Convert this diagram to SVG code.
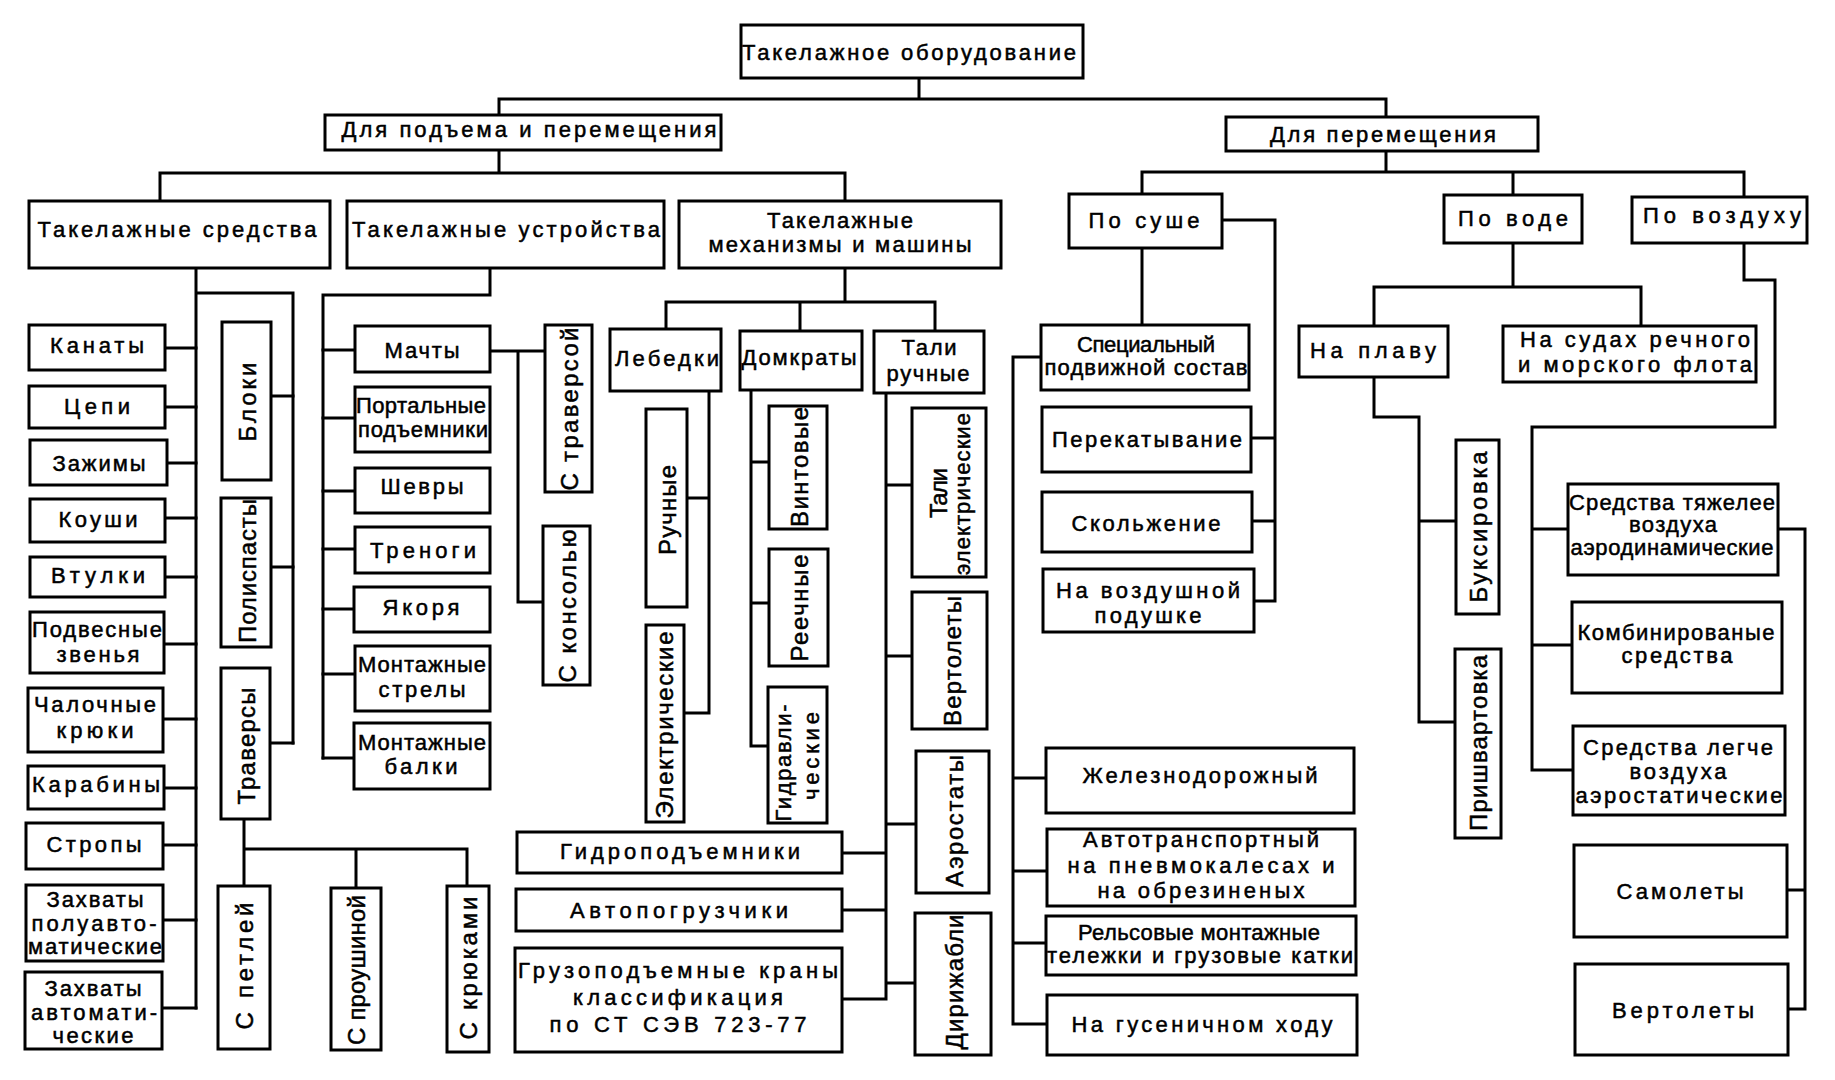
<svg xmlns="http://www.w3.org/2000/svg" width="1835" height="1080" viewBox="0 0 1835 1080">
<style>
rect{fill:#fff;stroke:#000;stroke-width:3}
.c path{fill:none;stroke:#000;stroke-width:3;stroke-linecap:square}
text{font-family:"Liberation Sans",Arial,sans-serif;font-size:22px;fill:#000;stroke:#000;stroke-width:0.5;text-anchor:middle}
.v{font-size:24px}
</style>
<rect x="0" y="0" width="1835" height="1080" style="stroke:none"/>
<g class="c" id="connectors">
<path d="M919,78V99M499,99H1386M499,99V115M1386,99V117"/>
<path d="M499,150V173M160,173H845M160,173V201M845,173V201"/>
<path d="M1386,151V172M1142,172H1744M1142,172V194M1513,172V195M1744,172V197"/>
<path d="M196,268V1008M196,293H293V743"/>
<path d="M165,348H196M165,407H196M167,463H196M165,518H196M165,577H196M164,644H196M163,719H196M164,788H196M163,845H196M163,920H196M162,1008H196"/>
<path d="M271,396H293M271,567H293M270,743H293"/>
<path d="M244,819V886M244,849H467V886M356,849V888"/>
<path d="M490,268V295H323V758"/>
<path d="M323,350H355M323,418H355M323,491H355M323,549H355M323,609H354M323,674H355M323,758H354"/>
<path d="M490,351H545M518,351V602H543"/>
<path d="M845,268V302M666,302H935M666,302V329M800,302V331M935,302V331"/>
<path d="M709,391V713M687,498H709M684,713H709"/>
<path d="M751,390V746M751,462H769M751,603H769M751,746H768"/>
<path d="M886,393V999M886,485H912M886,656H912M886,824H916M886,983H915M842,853H886M842,910H886M842,999H886"/>
<path d="M1142,248V325"/>
<path d="M1041,357H1013V1024M1013,778H1046M1013,871H1047M1013,943H1046M1013,1024H1047"/>
<path d="M1222,220H1275V601M1251,438H1275M1252,521H1275M1254,601H1275"/>
<path d="M1513,243V287M1374,287H1641M1374,287V326M1641,287V326"/>
<path d="M1374,377V417H1419V722M1419,521H1456M1419,722H1455"/>
<path d="M1744,243V280H1775V427H1532V770H1573M1532,529H1568M1532,645H1572"/>
<path d="M1778,529H1805V1009H1788M1787,890H1805"/>
</g>

<g id="top"><rect x="741" y="25" width="342" height="53"/><text x="909" y="60" textLength="334">Такелажное оборудование</text></g>
<g id="podjem"><rect x="325" y="115" width="396" height="35"/><text x="529" y="137" textLength="375">Для подъема и перемещения</text></g>
<g id="peremesh"><rect x="1226" y="117" width="312" height="34"/><text x="1383" y="142" textLength="226">Для перемещения</text></g>

<g id="sredstva"><rect x="29" y="201" width="301" height="67"/><text x="177" y="237" textLength="279">Такелажные средства</text></g>
<g id="ustroystva"><rect x="347" y="201" width="317" height="67"/><text x="506" y="237" textLength="308">Такелажные устройства</text></g>
<g id="mekh"><rect x="679" y="201" width="322" height="67"/><text x="840" y="228" font-size="21" textLength="146">Такелажные</text><text x="840" y="252" font-size="21" textLength="263">механизмы и машины</text></g>
<g id="po_sushe"><rect x="1069" y="194" width="153" height="54"/><text x="1144" y="228" textLength="111">По суше</text></g>
<g id="po_vode"><rect x="1444" y="195" width="138" height="48"/><text x="1513" y="226" textLength="110">По воде</text></g>
<g id="po_vozduhu"><rect x="1632" y="197" width="175" height="46"/><text x="1722" y="223" textLength="158">По воздуху</text></g>

<g id="kanaty"><rect x="29" y="325" width="136" height="45"/><text x="97" y="353" font-size="23" textLength="94">Канаты</text></g>
<g id="cepi"><rect x="29" y="386" width="136" height="42"/><text x="97" y="414" font-size="23" textLength="66">Цепи</text></g>
<g id="zazhimy"><rect x="30" y="440" width="137" height="45"/><text x="99" y="471" font-size="23" textLength="93">Зажимы</text></g>
<g id="koushi"><rect x="30" y="499" width="135" height="43"/><text x="98" y="527" font-size="23" textLength="79">Коуши</text></g>
<g id="vtulki"><rect x="30" y="557" width="135" height="40"/><text x="98" y="583" font-size="23" textLength="94">Втулки</text></g>
<g id="podvesnye"><rect x="30" y="612" width="134" height="61"/><text x="97" y="637" font-size="20" textLength="130">Подвесные</text><text x="98" y="662" font-size="20" textLength="83">звенья</text></g>
<g id="chalochnye"><rect x="28" y="688" width="135" height="64"/><text x="95" y="712" font-size="21" textLength="122">Чалочные</text><text x="95" y="738" font-size="21" textLength="77">крюки</text></g>
<g id="karabiny"><rect x="28" y="766" width="136" height="43"/><text x="96" y="792" font-size="23" textLength="128">Карабины</text></g>
<g id="stropy"><rect x="26" y="823" width="137" height="46"/><text x="94" y="852" font-size="23" textLength="95">Стропы</text></g>
<g id="zahvaty1"><rect x="26" y="885" width="137" height="76"/><text x="95" y="907" font-size="20" textLength="97">Захваты</text><text x="94" y="931" font-size="20" textLength="125">полуавто-</text><text x="95" y="954" font-size="20" textLength="134">матические</text></g>
<g id="zahvaty2"><rect x="25" y="972" width="137" height="77"/><text x="93" y="996" font-size="20" textLength="97">Захваты</text><text x="94" y="1020" font-size="20" textLength="126">автомати-</text><text x="93" y="1043" font-size="20" textLength="81">ческие</text></g>

<g id="bloki"><rect x="222" y="322" width="49" height="158"/><text class="v" transform="translate(247,402) rotate(-90)" dy="0.36em" textLength="79">Блоки</text></g>
<g id="polispasty"><rect x="221" y="498" width="50" height="149"/><text class="v" transform="translate(247,571) rotate(-90)" dy="0.36em" textLength="144">Полиспасты</text></g>
<g id="traversy"><rect x="221" y="668" width="49" height="151"/><text class="v" transform="translate(246,746) rotate(-90)" dy="0.36em" textLength="117">Траверсы</text></g>
<g id="s_petley"><rect x="218" y="886" width="52" height="163"/><text class="v" transform="translate(244,966) rotate(-90)" dy="0.36em" textLength="127">С петлей</text></g>
<g id="s_proushinoy"><rect x="331" y="888" width="50" height="162"/><text class="v" transform="translate(356,970) rotate(-90)" dy="0.36em" textLength="150">С проушиной</text></g>
<g id="s_kryukami"><rect x="447" y="886" width="42" height="166"/><text class="v" transform="translate(468,968) rotate(-90)" dy="0.36em" textLength="143">С крюками</text></g>

<g id="machty"><rect x="355" y="326" width="135" height="46"/><text x="422" y="358" textLength="75">Мачты</text></g>
<g id="portalnye"><rect x="355" y="387" width="135" height="65"/><text x="421" y="413" font-size="20" textLength="130">Портальные</text><text x="423" y="437" font-size="20" textLength="130">подъемники</text></g>
<g id="shevry"><rect x="355" y="468" width="135" height="45"/><text x="422" y="494" textLength="83">Шевры</text></g>
<g id="trenogi"><rect x="355" y="527" width="135" height="46"/><text x="423" y="558" textLength="106">Треноги</text></g>
<g id="yakorya"><rect x="354" y="587" width="136" height="45"/><text x="421" y="615" textLength="77">Якоря</text></g>
<g id="strely"><rect x="355" y="646" width="135" height="65"/><text x="422" y="672" font-size="20" textLength="128">Монтажные</text><text x="422" y="697" font-size="20" textLength="87">стрелы</text></g>
<g id="balki"><rect x="354" y="723" width="136" height="66"/><text x="422" y="750" font-size="20" textLength="128">Монтажные</text><text x="421" y="774" font-size="20" textLength="73">балки</text></g>
<g id="s_traversoy"><rect x="545" y="325" width="47" height="167"/><text class="v" transform="translate(569,409) rotate(-90)" dy="0.36em" textLength="163">С траверсой</text></g>
<g id="s_konsolyu"><rect x="543" y="526" width="47" height="159"/><text class="v" transform="translate(567,606) rotate(-90)" dy="0.36em" textLength="153">С консолью</text></g>

<g id="lebedki"><rect x="610" y="329" width="111" height="62"/><text x="667" y="366" textLength="104">Лебедки</text></g>
<g id="domkraty"><rect x="740" y="331" width="122" height="59"/><text x="799" y="365" textLength="115">Домкраты</text></g>
<g id="tali_ruchnye"><rect x="874" y="331" width="110" height="62"/><text x="929" y="355" font-size="21" textLength="55">Тали</text><text x="928" y="381" font-size="21" textLength="83">ручные</text></g>
<g id="ruchnye"><rect x="646" y="409" width="41" height="198"/><text class="v" transform="translate(667,510) rotate(-90)" dy="0.36em" textLength="90">Ручные</text></g>
<g id="elektricheskie"><rect x="646" y="625" width="38" height="197"/><text class="v" transform="translate(664,725) rotate(-90)" dy="0.36em" textLength="187">Электрические</text></g>
<g id="vintovye"><rect x="769" y="406" width="58" height="123"/><text class="v" transform="translate(799,467) rotate(-90)" dy="0.36em" textLength="120">Винтовые</text></g>
<g id="reechnye"><rect x="769" y="549" width="59" height="117"/><text class="v" transform="translate(799,608) rotate(-90)" dy="0.36em" textLength="107">Реечные</text></g>
<g id="gidravlicheskie"><rect x="768" y="687" width="59" height="136"/><text transform="translate(783,763) rotate(-90)" dy="0.36em" textLength="117">Гидравли-</text><text transform="translate(811,756) rotate(-90)" dy="0.36em" textLength="88">ческие</text></g>
<g id="tali_el"><rect x="912" y="408" width="74" height="169"/><text class="v" transform="translate(938,493) rotate(-90)" dy="0.36em" textLength="50">Тали</text><text transform="translate(962,494) rotate(-90)" dy="0.36em" textLength="162">электрические</text></g>
<g id="vertolety1"><rect x="912" y="592" width="75" height="137"/><text class="v" transform="translate(952,661) rotate(-90)" dy="0.36em" textLength="130">Вертолеты</text></g>
<g id="aerostaty"><rect x="916" y="751" width="73" height="142"/><text class="v" transform="translate(954,821) rotate(-90)" dy="0.36em" textLength="132">Аэростаты</text></g>
<g id="dirizhabli"><rect x="915" y="913" width="76" height="142"/><text class="v" transform="translate(954,982) rotate(-90)" dy="0.36em" textLength="135">Дирижабли</text></g>
<g id="gidropod"><rect x="517" y="832" width="325" height="41"/><text x="680" y="859" font-size="23" textLength="240">Гидроподъемники</text></g>
<g id="avtopogr"><rect x="516" y="889" width="326" height="42"/><text x="679" y="918" font-size="23" textLength="218">Автопогрузчики</text></g>
<g id="gruzopod"><rect x="515" y="948" width="327" height="104"/><text x="678" y="978" textLength="320">Грузоподъемные краны</text><text x="678" y="1005" textLength="210">классификация</text><text x="678" y="1032" textLength="257">по СТ СЭВ 723-77</text></g>

<g id="specialny"><rect x="1041" y="325" width="208" height="65"/><text x="1146" y="352" font-size="17" textLength="138">Специальный</text><text x="1146" y="375" font-size="17" textLength="203">подвижной состав</text></g>
<g id="perekat"><rect x="1042" y="407" width="209" height="65"/><text x="1147" y="447" font-size="21" textLength="190">Перекатывание</text></g>
<g id="skolzh"><rect x="1042" y="492" width="210" height="60"/><text x="1146" y="531" font-size="21" textLength="149">Скольжение</text></g>
<g id="vozd_pod"><rect x="1043" y="569" width="211" height="63"/><text x="1148" y="598" font-size="20" textLength="184">На воздушной</text><text x="1148" y="623" font-size="20" textLength="107">подушке</text></g>
<g id="zhd"><rect x="1046" y="748" width="308" height="65"/><text x="1200" y="783" font-size="21" textLength="235">Железнодорожный</text></g>
<g id="avtotr"><rect x="1047" y="829" width="308" height="77"/><text x="1201" y="847" font-size="19" textLength="236">Автотранспортный</text><text x="1201" y="873" font-size="19" textLength="267">на пневмокалесах и</text><text x="1201" y="898" font-size="19" textLength="207">на обрезиненых</text></g>
<g id="relsovye"><rect x="1046" y="916" width="310" height="59"/><text x="1199" y="940" font-size="18" textLength="242">Рельсовые монтажные</text><text x="1200" y="963" font-size="18" textLength="306">тележки и грузовые катки</text></g>
<g id="gusen"><rect x="1047" y="995" width="310" height="60"/><text x="1202" y="1032" font-size="21" textLength="261">На гусеничном ходу</text></g>

<g id="na_plavu"><rect x="1299" y="326" width="149" height="51"/><text x="1373" y="358" textLength="126">На плаву</text></g>
<g id="na_sudah"><rect x="1503" y="326" width="253" height="56"/><text x="1635" y="347" font-size="21" textLength="230">На судах речного</text><text x="1635" y="372" font-size="21" textLength="234">и морского флота</text></g>
<g id="buksirovka"><rect x="1456" y="440" width="43" height="174"/><text class="v" transform="translate(1478,527) rotate(-90)" dy="0.36em" textLength="151">Буксировка</text></g>
<g id="prishvartovka"><rect x="1455" y="649" width="46" height="189"/><text class="v" transform="translate(1478,743) rotate(-90)" dy="0.36em" textLength="176">Пришвартовка</text></g>

<g id="tyazhelee"><rect x="1568" y="484" width="210" height="91"/><text x="1672" y="510" font-size="17" textLength="206">Средства тяжелее</text><text x="1673" y="532" font-size="17" textLength="88">воздуха</text><text x="1672" y="555" font-size="17" textLength="203">аэродинамические</text></g>
<g id="kombin"><rect x="1572" y="602" width="210" height="91"/><text x="1676" y="640" font-size="19" textLength="197">Комбинированые</text><text x="1677" y="663" font-size="19" textLength="111">средства</text></g>
<g id="legche"><rect x="1573" y="726" width="212" height="89"/><text x="1678" y="755" font-size="19" textLength="190">Средства легче</text><text x="1678" y="779" font-size="19" textLength="97">воздуха</text><text x="1679" y="803" font-size="19" textLength="207">аэростатические</text></g>
<g id="samolety"><rect x="1574" y="845" width="213" height="92"/><text x="1680" y="899" font-size="24" textLength="127">Самолеты</text></g>
<g id="vertolety2"><rect x="1575" y="964" width="213" height="91"/><text x="1683" y="1018" font-size="24" textLength="142">Вертолеты</text></g>
</svg>
